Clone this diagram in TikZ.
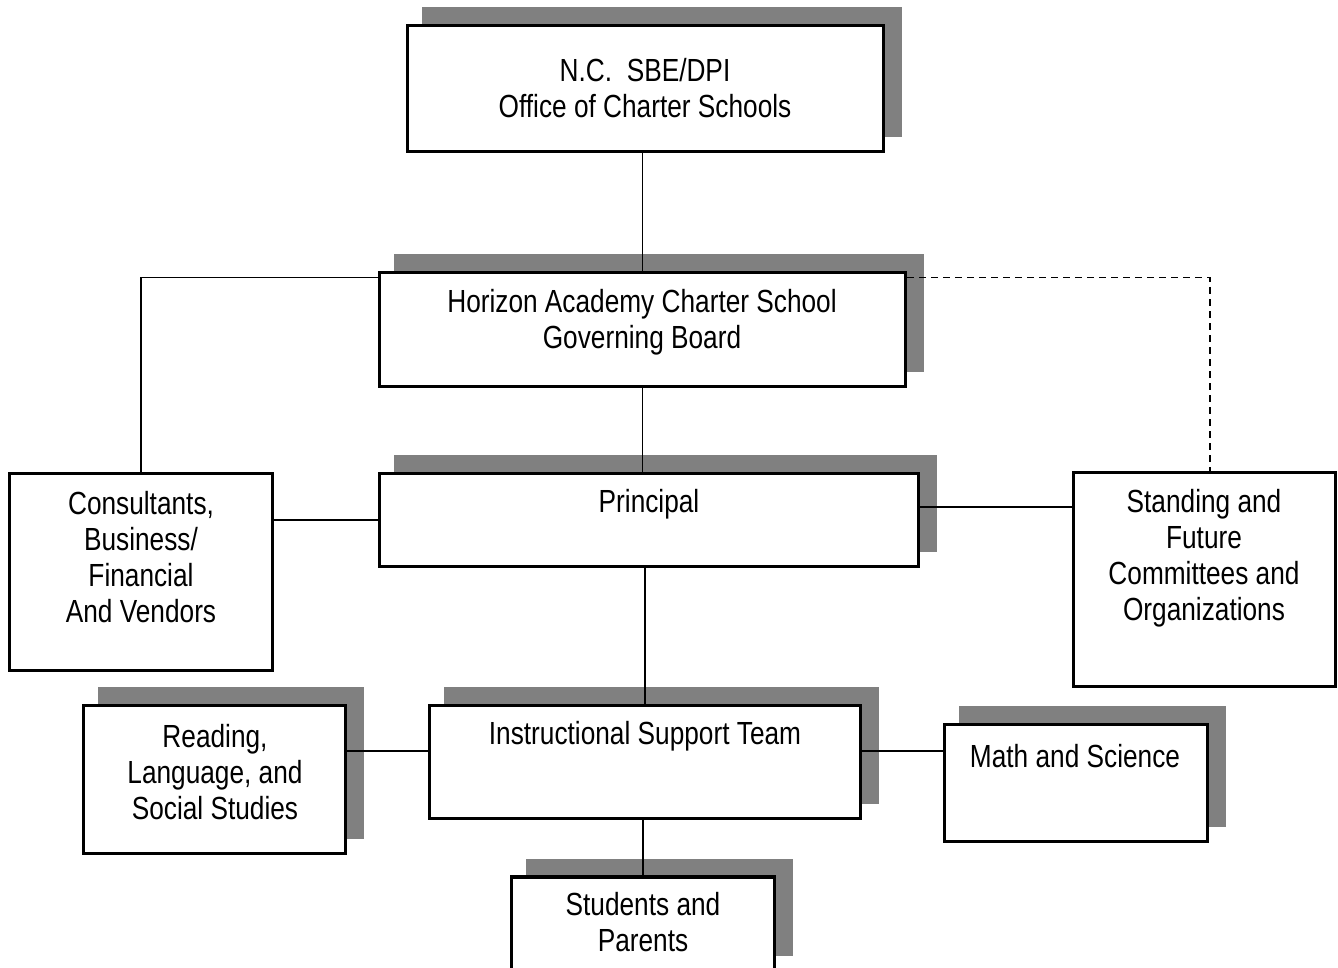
\documentclass[tikz,border=0pt]{standalone}
\usepackage{fontspec}
\setmainfont{Liberation Sans}[FakeStretch=0.82]
\usepackage{tikz}
\usetikzlibrary{shadows}
\definecolor{shadowgray}{HTML}{808080}

\begin{document}
\begin{tikzpicture}
   [x=0.5pt, y=-0.5pt,
   orgbox/.style={rectangle, draw=black, fill=white, line width=1.8pt, inner sep=0pt},
   shadowbox/.style={orgbox, general shadow={fill=shadowgray, draw=shadowgray, line width=1.6pt, shadow xshift=8.25pt, shadow yshift=8.25pt}},
   boxtext/.style={align=center, inner sep=0pt, font=\fontsize{16}{18}\selectfont},
   link/.style={draw=black, line width=0.8pt},
   ]
 \useasboundingbox (0,0) rectangle (1338,968);
 % boxes
 \node at (645.5,88.5) [shadowbox, minimum width=238pt, minimum height=63pt] (sbe) {};
 \node at (642.5,329.5) [shadowbox, minimum width=263pt, minimum height=57pt] (board) {};
 \node at (649,520) [shadowbox, minimum width=269.5pt, minimum height=46.5pt] (principal) {};
 \node at (141,572) [orgbox, minimum width=131.5pt, minimum height=98.5pt] (consult) {};
 \node at (1204.5,579.5) [orgbox, minimum width=131pt, minimum height=107pt] (standing) {};
 \node at (214.5,779.5) [shadowbox, minimum width=131pt, minimum height=74pt] (reading) {};
 \node at (645,762) [shadowbox, minimum width=215.5pt, minimum height=56.5pt] (ist) {};
 \node at (1076,783) [shadowbox, minimum width=131.5pt, minimum height=58.5pt] (math) {};
 \node at (643,924) [shadowbox, minimum width=131.5pt, minimum height=47pt] (students) {};
 % texts
 \node at (645,88) [boxtext] (sbe-t) {N.C.~ SBE/DPI\\Office of Charter Schools};
 \node at (642,322.5) [boxtext] (board-t) {Horizon Academy Charter School\\Governing Board};
 \node at (649,504) [boxtext] (principal-t) {Principal};
 \node at (141,557.5) [boxtext] (consult-t) {Consultants,\\Business/\\Financial\\And Vendors};
 \node at (1204,558.5) [boxtext] (standing-t) {Standing and\\Future\\Committees and\\Organizations};
 \node at (215,772) [boxtext] (reading-t) {Reading,\\Language, and\\Social Studies};
 \node at (645,736) [boxtext] (ist-t) {Instructional Support Team};
 \node at (1075,756) [boxtext] (math-t) {Math and Science};
 \node at (643,922) [boxtext] (students-t) {Students and\\Parents};
 % connectors
 \draw[link] (board.north) -- (board.north |- sbe.south);
 \draw[link] (board.south) -- (board.south |- principal.north);
 \draw[link] (ist.north) -- (ist.north |- principal.south);
 \draw[link] (students.north) -- (students.north |- ist.south);
 \draw[link] ([yshift=-3.5pt]board.north west) -| (consult.north);
 \draw[link, dash pattern=on 3.5pt off 2.5pt] ([yshift=-3.5pt]board.north east) -| ([xshift=2.75pt]standing.north);
 \draw[link] (principal.west) -- (principal.west -| consult.east);
 \draw[link] ([yshift=6.5pt]principal.east) -- ([yshift=6.5pt]principal.east -| standing.west);
 \draw[link] ([yshift=5.5pt]ist.west) -- ([yshift=5.5pt]ist.west -| reading.east);
 \draw[link] ([yshift=5.5pt]ist.east) -- ([yshift=5.5pt]ist.east -| math.west);
\end{tikzpicture}
\end{document}
